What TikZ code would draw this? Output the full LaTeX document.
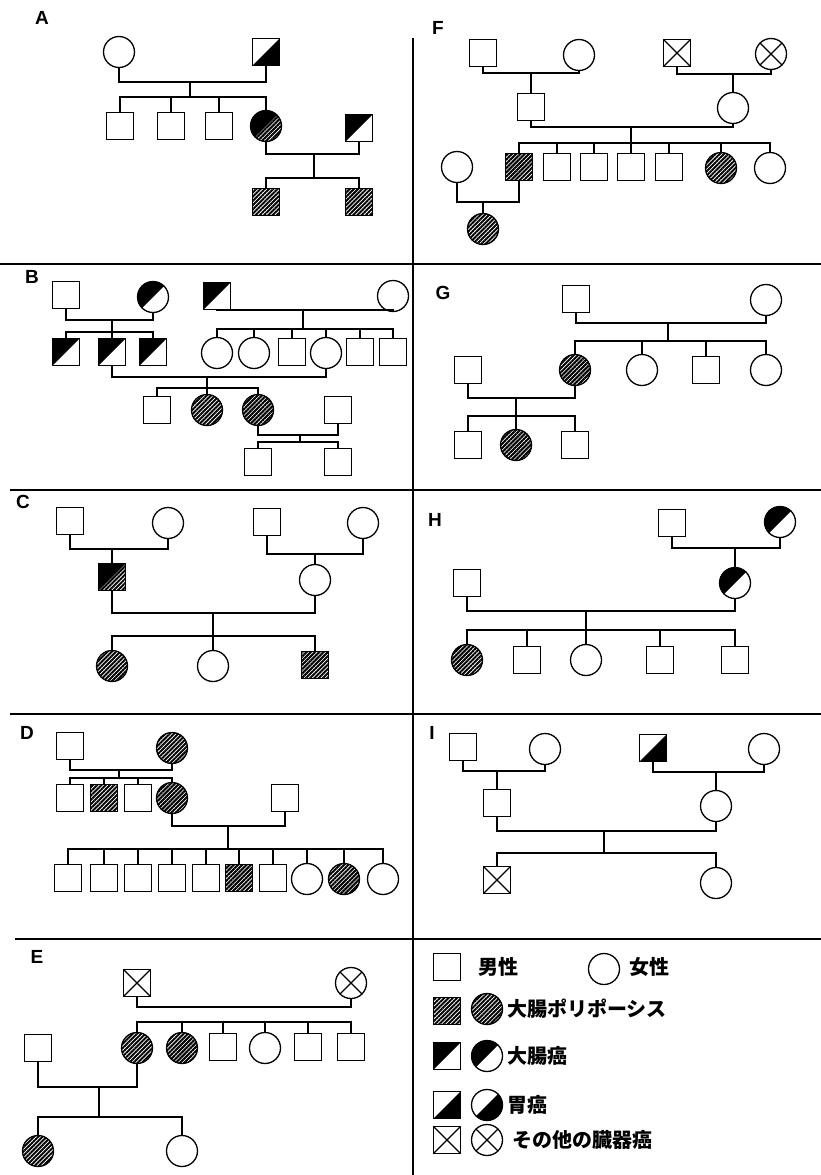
\documentclass[tikz,border=0pt]{standalone}
\usepackage{fontspec}
\setsansfont{Liberation Sans}
\newfontfamily\jp{Noto Sans CJK JP}
\usetikzlibrary{patterns.meta}
\tikzset{
  base/.style={draw, line width=1.3pt, inner sep=0pt, outer sep=0pt},
  sq/.style={base, rectangle, minimum size=27pt},
  ci/.style={base, circle, minimum size=31pt},
  hatchpat/.style={pattern={Lines[angle=45,distance=3pt,line width=2pt]}},
  pol/.style={hatchpat},
  crc/.style={path picture={\fill[black] (path picture bounding box.center) ++(-20pt,20pt) -- ++(40pt,0pt) -- ++(-40pt,-40pt) -- cycle;}},
  gc/.style={path picture={\fill[black] (path picture bounding box.center) ++(20pt,20pt) -- ++(0pt,-40pt) -- ++(-40pt,0pt) -- cycle;}},
  crcpol/.style={path picture={\fill[hatchpat] (path picture bounding box.center) ++(-20pt,-20pt) rectangle ++(40pt,40pt);
     \fill[black] (path picture bounding box.center) ++(-20pt,20pt) -- ++(40pt,0pt) -- ++(-40pt,-40pt) -- cycle;}},
  oth/.style={path picture={\draw[line width=1.3pt] (path picture bounding box.center) ++(-20pt,20pt) -- ++(40pt,-40pt) (path picture bounding box.center) ++(20pt,20pt) -- ++(-40pt,-40pt);}},
  ln/.style={line width=1.2pt},
  divider/.style={line width=1.3pt},
  plabel/.style={font=\sffamily\bfseries\fontsize{19}{19}\selectfont, inner sep=0pt},
  jtext/.style={font=\jp\bfseries\fontsize{20}{20}\selectfont, anchor=west, inner sep=0pt}
}
\begin{document}
\begin{tikzpicture}[x=1pt,y=-1pt]
\fill[white] (0,0) rectangle (821,1175);
\useasboundingbox (0,0) rectangle (821,1175);
% dividers
\draw[divider] (0,264) -- (821,264);
\draw[divider] (10,490) -- (821,490);
\draw[divider] (10,714) -- (821,714);
\draw[divider] (15,939) -- (821,939);
\draw[divider] (413,38) -- (413,1175);
% labels
\node[plabel] (LA) at (42,18) {A};
\node[plabel] (LF) at (438,28) {F};
\node[plabel] (LB) at (32,277) {B};
\node[plabel] (LG) at (443,293) {G};
\node[plabel] (LC) at (23,502) {C};
\node[plabel] (LH) at (435,520) {H};
\node[plabel] (LD) at (27,733) {D};
\node[plabel] (LI) at (432,733) {I};
\node[plabel] (LE) at (37,957) {E};

% ---------- A ----------
\node[ci] (a1) at (119,52) {};
\node[sq,gc] (a2) at (266,52) {};
\coordinate (am1) at (190,82);
\coordinate (as1) at (190,97);
\node[sq] (a3) at (120,126) {};
\node[sq] (a4) at (171,126) {};
\node[sq] (a5) at (219,126) {};
\node[ci,crcpol] (a6) at (266,126) {};
\node[sq,crc] (a7) at (359,128) {};
\coordinate (am2) at (314,154);
\coordinate (as2) at (314,178);
\node[sq,pol] (a8) at (266,202) {};
\node[sq,pol] (a9) at (359,202) {};
\draw[ln] (a1.south) |- (am1) -| (a2.south);
\draw[ln] (am1) -- (as1);
\draw[ln] (a3.north) |- (as1) -| (a6.north);
\draw[ln] (a4.north) -- (a4.north |- as1);
\draw[ln] (a5.north) -- (a5.north |- as1);
\draw[ln] (a6.south) |- (am2) -| (a7.south);
\draw[ln] (am2) -- (as2);
\draw[ln] (a8.north) |- (as2) -| (a9.north);

% ---------- F ----------
\node[sq] (f1) at (483,53) {};
\node[ci] (f2) at (579,55) {};
\node[sq,oth] (f3) at (677,53) {};
\node[ci,oth] (f4) at (771,54) {};
\coordinate (fm1) at (531,73);
\coordinate (fm2) at (733,74);
\node[sq] (f5) at (531,107) {};
\node[ci] (f6) at (733,108) {};
\coordinate (fm3) at (631,127);
\coordinate (fs3) at (631,143);
\node[ci] (f7) at (457,167) {};
\node[sq,pol] (f8) at (519,167) {};
\node[sq] (f9) at (557,167) {};
\node[sq] (f10) at (594,167) {};
\node[sq] (f11) at (631,167) {};
\node[sq] (f12) at (669,167) {};
\node[ci,pol] (f13) at (721,168) {};
\node[ci] (f14) at (770,168) {};
\coordinate (fm4) at (483,202);
\node[ci,pol] (f15) at (483,229) {};
\draw[ln] (f1.south) |- (fm1) -| (f2.south);
\draw[ln] (fm1) -- (f5.north);
\draw[ln] (f3.south) |- (fm2) -| (f4.south);
\draw[ln] (fm2) -- (f6.north);
\draw[ln] (f5.south) |- (fm3) -| (f6.south);
\draw[ln] (fm3) -- (fs3);
\draw[ln] (f8.north) |- (fs3) -| (f14.north);
\foreach \n in {f9,f10,f11,f12,f13} \draw[ln] (\n.north) -- (\n.north |- fs3);
\draw[ln] (f7.south) |- (fm4) -| (f8.south);
\draw[ln] (fm4) -- (f15.north);

% ---------- B ----------
\node[sq] (b1) at (66,295) {};
\node[ci,crc] (b2) at (153,297) {};
\node[sq,crc] (b3) at (217,296) {};
\node[ci] (b4) at (393,296) {};
\coordinate (bm1) at (112,320);
\coordinate (bs1) at (112,332);
\node[sq,crc] (b5) at (66,352) {};
\node[sq,crc] (b6) at (112,352) {};
\node[sq,crc] (b7) at (153,352) {};
\coordinate (bm2) at (303,310);
\coordinate (bs2) at (303,329);
\node[ci] (b8) at (217,353) {};
\node[ci] (b9) at (254,353) {};
\node[sq] (b10) at (292,352) {};
\node[ci] (b11) at (326,353) {};
\node[sq] (b12) at (360,352) {};
\node[sq] (b13) at (393,352) {};
\coordinate (bm3) at (207,377);
\coordinate (bs3) at (207,388);
\node[sq] (b14) at (157,410) {};
\node[ci,pol] (b15) at (207,410) {};
\node[ci,pol] (b16) at (258,410) {};
\node[sq] (b17) at (338,410) {};
\coordinate (bm4) at (300,435);
\coordinate (bs4) at (300,442);
\node[sq] (b18) at (258,462) {};
\node[sq] (b19) at (338,462) {};
\draw[ln] (b1.south) |- (bm1) -| (b2.south);
\draw[ln] (bm1) -- (bs1);
\draw[ln] (b5.north) |- (bs1) -| (b7.north);
\draw[ln] (b6.north) -- (b6.north |- bs1);
\draw[ln] (b3.south) |- (bm2) -| (b4.south);
\draw[ln] (bm2) -- (bs2);
\draw[ln] (b8.north) |- (bs2) -| (b13.north);
\foreach \n in {b9,b10,b11,b12} \draw[ln] (\n.north) -- (\n.north |- bs2);
\draw[ln] (b6.south) |- (bm3) -| (b11.south);
\draw[ln] (bm3) -- (bs3);
\draw[ln] (b14.north) |- (bs3) -| (b16.north);
\draw[ln] (b15.north) -- (b15.north |- bs3);
\draw[ln] (b16.south) |- (bm4) -| (b17.south);
\draw[ln] (bm4) -- (bs4);
\draw[ln] (b18.north) |- (bs4) -| (b19.north);

% ---------- G ----------
\node[sq] (g1) at (576,299) {};
\node[ci] (g2) at (766,300) {};
\coordinate (gm1) at (668,323);
\coordinate (gs1) at (668,341);
\node[ci,pol] (g3) at (575,370) {};
\node[ci] (g4) at (642,370) {};
\node[sq] (g5) at (706,370) {};
\node[ci] (g6) at (766,370) {};
\node[sq] (g7) at (468,370) {};
\coordinate (gm2) at (516,398);
\coordinate (gs2) at (516,416);
\node[sq] (g8) at (468,445) {};
\node[ci,pol] (g9) at (516,445) {};
\node[sq] (g10) at (575,445) {};
\draw[ln] (g1.south) |- (gm1) -| (g2.south);
\draw[ln] (gm1) -- (gs1);
\draw[ln] (g3.north) |- (gs1) -| (g6.north);
\foreach \n in {g4,g5} \draw[ln] (\n.north) -- (\n.north |- gs1);
\draw[ln] (g7.south) |- (gm2) -| (g3.south);
\draw[ln] (gm2) -- (gs2);
\draw[ln] (g8.north) |- (gs2) -| (g10.north);
\draw[ln] (g9.north) -- (g9.north |- gs2);

% ---------- C ----------
\node[sq] (c1) at (70,521) {};
\node[ci] (c2) at (168,523) {};
\node[sq] (c3) at (267,522) {};
\node[ci] (c4) at (363,523) {};
\coordinate (cm1) at (112,549);
\node[sq,crcpol] (c5) at (112,577) {};
\coordinate (cm2) at (315,554);
\node[ci] (c6) at (315,580) {};
\coordinate (cm3) at (213,613);
\coordinate (cs3) at (213,636);
\node[ci,pol] (c7) at (112,666) {};
\node[ci] (c8) at (213,666) {};
\node[sq,pol] (c9) at (315,665) {};
\draw[ln] (c1.south) |- (cm1) -| (c2.south);
\draw[ln] (cm1) -- (c5.north);
\draw[ln] (c3.south) |- (cm2) -| (c4.south);
\draw[ln] (cm2) -- (c6.north);
\draw[ln] (c5.south) |- (cm3) -| (c6.south);
\draw[ln] (cm3) -- (cs3);
\draw[ln] (c7.north) |- (cs3) -| (c9.north);
\draw[ln] (c8.north) -- (c8.north |- cs3);

% ---------- H ----------
\node[sq] (h1) at (672,523) {};
\node[ci,crc] (h2) at (780,522) {};
\coordinate (hm1) at (735,548);
\node[ci,crc] (h3) at (735,583) {};
\node[sq] (h4) at (467,583) {};
\coordinate (hm2) at (586,611);
\coordinate (hs2) at (586,630);
\node[ci,pol] (h5) at (467,660) {};
\node[sq] (h6) at (527,660) {};
\node[ci] (h7) at (586,660) {};
\node[sq] (h8) at (660,660) {};
\node[sq] (h9) at (735,660) {};
\draw[ln] (h1.south) |- (hm1) -| (h2.south);
\draw[ln] (hm1) -- (h3.north);
\draw[ln] (h4.south) |- (hm2) -| (h3.south);
\draw[ln] (hm2) -- (hs2);
\draw[ln] (h5.north) |- (hs2) -| (h9.north);
\foreach \n in {h6,h7,h8} \draw[ln] (\n.north) -- (\n.north |- hs2);

% ---------- D ----------
\node[sq] (d1) at (70,746) {};
\node[ci,pol] (d2) at (172,748) {};
\coordinate (dm1) at (119,770);
\coordinate (ds1) at (119,778);
\node[sq] (d3) at (70,798) {};
\node[sq,pol] (d4) at (104,798) {};
\node[sq] (d5) at (138,798) {};
\node[ci,pol] (d6) at (172,798) {};
\node[sq] (d7) at (285,798) {};
\coordinate (dm2) at (228,826);
\coordinate (ds2) at (228,849);
\node[sq] (d8) at (68,878) {};
\node[sq] (d9) at (104,878) {};
\node[sq] (d10) at (138,878) {};
\node[sq] (d11) at (172,878) {};
\node[sq] (d12) at (206,878) {};
\node[sq,pol] (d13) at (239,878) {};
\node[sq] (d14) at (273,878) {};
\node[ci] (d15) at (307,879) {};
\node[ci,pol] (d16) at (344,879) {};
\node[ci] (d17) at (383,879) {};
\draw[ln] (d1.south) |- (dm1) -| (d2.south);
\draw[ln] (dm1) -- (ds1);
\draw[ln] (d3.north) |- (ds1) -| (d6.north);
\foreach \n in {d4,d5} \draw[ln] (\n.north) -- (\n.north |- ds1);
\draw[ln] (d6.south) |- (dm2) -| (d7.south);
\draw[ln] (dm2) -- (ds2);
\draw[ln] (d8.north) |- (ds2) -| (d17.north);
\foreach \n in {d9,d10,d11,d12,d13,d14,d15,d16} \draw[ln] (\n.north) -- (\n.north |- ds2);

% ---------- I ----------
\node[sq] (i1) at (463,747) {};
\node[ci] (i2) at (545,749) {};
\node[sq,gc] (i3) at (653,748) {};
\node[ci] (i4) at (764,749) {};
\coordinate (im1) at (497,771);
\node[sq] (i5) at (497,803) {};
\coordinate (im2) at (716,772);
\node[ci] (i6) at (716,806) {};
\coordinate (im3) at (604,831);
\coordinate (is3) at (604,853);
\node[sq,oth] (i7) at (497,880) {};
\node[ci] (i8) at (716,883) {};
\draw[ln] (i1.south) |- (im1) -| (i2.south);
\draw[ln] (im1) -- (i5.north);
\draw[ln] (i3.south) |- (im2) -| (i4.south);
\draw[ln] (im2) -- (i6.north);
\draw[ln] (i5.south) |- (im3) -| (i6.south);
\draw[ln] (im3) -- (is3);
\draw[ln] (i7.north) |- (is3) -| (i8.north);

% ---------- E ----------
\node[sq,oth] (e1) at (137,983) {};
\node[ci,oth] (e2) at (351,983) {};
\coordinate (em1) at (244,1007);
\coordinate (es1) at (244,1022);
\node[ci,pol] (e3) at (137,1048) {};
\node[ci,pol] (e4) at (182,1048) {};
\node[sq] (e5) at (223,1047) {};
\node[ci] (e6) at (265,1048) {};
\node[sq] (e7) at (308,1047) {};
\node[sq] (e8) at (351,1047) {};
\node[sq] (e9) at (38,1048) {};
\coordinate (em2) at (99,1087);
\coordinate (es2) at (99,1117);
\node[ci,pol] (e10) at (38,1151) {};
\node[ci] (e11) at (182,1151) {};
\draw[ln] (e1.south) |- (em1) -| (e2.south);
\draw[ln] (e3.north) |- (es1) -| (e8.north);
\foreach \n in {e4,e5,e6,e7} \draw[ln] (\n.north) -- (\n.north |- es1);
\draw[ln] (e9.south) |- (em2) -| (e3.south);
\draw[ln] (em2) -- (es2);
\draw[ln] (e10.north) |- (es2) -| (e11.north);

% ---------- Legend ----------
\node[sq] (l1) at (447,967) {};
\node[jtext] (t1) at (478,967) {男性};
\node[ci] (l2) at (604,969) {};
\node[jtext] (t2) at (629,967) {女性};
\node[sq,pol] (l3) at (447,1011) {};
\node[ci,pol] (l4) at (487,1009) {};
\node[jtext] (t3) at (507,1009) {大腸ポリポーシス};
\node[sq,crc] (l5) at (447,1056) {};
\node[ci,crc] (l6) at (487,1056) {};
\node[jtext] (t4) at (507,1056) {大腸癌};
\node[sq,gc] (l7) at (447,1105) {};
\node[ci,gc] (l8) at (487,1105) {};
\node[jtext] (t5) at (507,1105) {胃癌};
\node[sq,oth] (l9) at (447,1140) {};
\node[ci,oth] (l10) at (487,1140) {};
\node[jtext] (t6) at (512,1140) {その他の臓器癌};
\end{tikzpicture}
\end{document}
